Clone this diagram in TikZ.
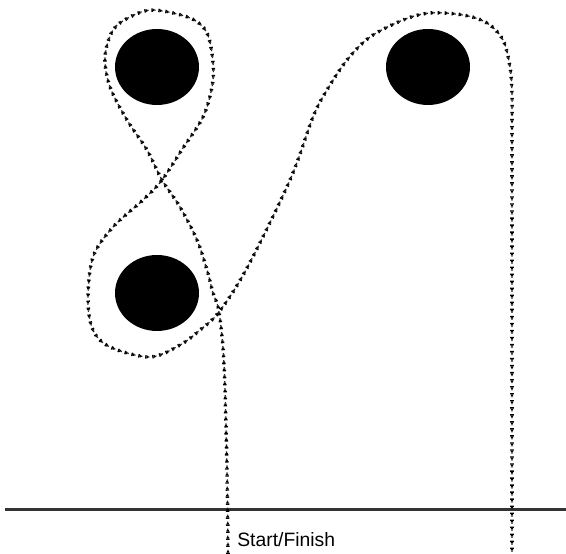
\documentclass[tikz,border=0pt]{standalone}
\usepackage{fontspec}
\setmainfont{Liberation Sans}
\usepackage{tikz}

\begin{document}
\begin{tikzpicture}[x=0.02cm, y=0.02cm,
    trail/.style={black!85, line width=0.7pt, dash pattern=on 0.8pt off 3.2pt, dash phase=2.4pt,
        preaction={draw, line width=2pt, dash pattern=on 0.8pt off 3.2pt, dash phase=0pt},
        preaction={draw, line width=1.35pt, dash pattern=on 0.8pt off 3.2pt, dash phase=3.2pt}}]
        \useasboundingbox (0,0) rectangle (566,554);
        %障害物（黒い円）
        \fill (157,487) ellipse (42 and 38);
        \fill (428,487) ellipse (42 and 38);
        \fill (157,261) ellipse (42 and 38);
        %スタートライン
        \draw[line width=1.7pt, black!80] (5,44) -- (566,44);
        \node[anchor=base west, font=\fontsize{11}{13}\selectfont, inner sep=0pt] (startlabel) at (237,7) {Start/Finish};
        %走行経路
        \draw[trail] plot[smooth, tension=0.55] coordinates {(228,0) (227,84) (224,190) (219,242) (213,261) (207,284) (197,314) (180,347) (162,374) (147,404) (127,434) (110,467) (105,497) (113,524) (130,537) (153,544) (190,536) (207,521) (213,491) (212,467) (203,437) (183,406) (162,374) (143,354) (113,327) (93,297) (88,254) (93,224) (110,207) (150,197) (180,209) (200,224) (219,242) (247,286) (290,374) (313,437) (327,464) (347,494) (370,517) (403,534) (430,541) (463,539) (487,531) (503,514) (510,487) (512,461) (512,437)} -- (512,0);
    \end{tikzpicture}
\end{document}
